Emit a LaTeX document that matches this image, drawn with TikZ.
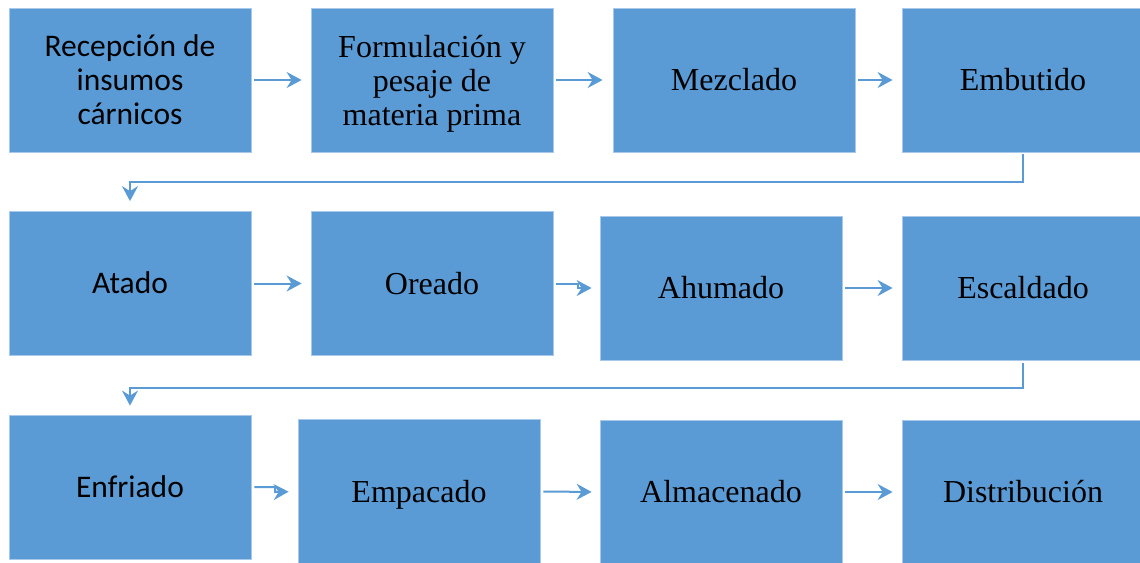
\documentclass[tikz,border=0pt]{standalone}
\usepackage{fontspec}
\setmainfont{Liberation Serif}
\newfontfamily\calfont{Carlito}
\usetikzlibrary{arrows.meta}
\definecolor{boxblue}{HTML}{5B9BD5}
\definecolor{boxedge}{HTML}{A9C9EA}
\tikzset{
  stepbox/.style={rectangle, fill=boxblue, draw=boxedge, line width=0.8pt,
    minimum width=242pt, minimum height=144pt, inner sep=0pt, align=center,
    text=black, font=\fontsize{32}{34}\selectfont},
  sansbox/.style={stepbox, font=\calfont\fontsize{31.5}{34}\selectfont},
  serifline/.style={stepbox, text height=21.2pt, text depth=0pt},
  sansline/.style={sansbox, text height=20.3pt, text depth=0pt},
  flow/.style={draw=boxblue, line width=2pt,
    -{Stealth[length=15pt,width=16pt,inset=5pt]}},
}
\begin{document}
\begin{tikzpicture}[x=1pt,y=-1pt]
\useasboundingbox (0,0) rectangle (1140,562);
% row 1
\node[sansbox] (b1) at (130,80) {Recepción de\\insumos\\cárnicos};
\node[stepbox, text height=90pt, text depth=0pt] (b2) at (432,80) {Formulación y\\pesaje de\\materia prima};
\node[serifline] (b3) at (734,80) {Mezclado};
\node[serifline] (b4) at (1023,80) {Embutido};
% row 2
\node[sansline] (b5) at (130,283.5) {Atado};
\node[serifline] (b6) at (432,283.5) {Oreado};
\node[serifline] (b7) at (721,288) {Ahumado};
\node[serifline] (b8) at (1023,288) {Escaldado};
% row 3
\node[sansline] (b9) at (130,487) {Enfriado};
\node[serifline] (b10) at (419,491.5) {Empacado};
\node[serifline] (b11) at (721,492) {Almacenado};
\node[serifline] (b12) at (1023,492) {Distribución};
% connectors row 1
\draw[flow, shorten <=3pt, shorten >=9pt] (b1.east) -- (b2.west);
\draw[flow, shorten <=3pt, shorten >=10pt] (b2.east) -- (b3.west);
\draw[flow, shorten <=3pt, shorten >=9pt] (b3.east) -- (b4.west);
% turn 1
\coordinate (c1) at (130,182);
\draw[flow, shorten <=2pt, shorten >=10pt] (b4.south) |- (c1) -- (b5.north);
% row 2
\draw[flow, shorten <=3pt, shorten >=9pt] (b5.east) -- (b6.west);
\coordinate (j1) at (578,283.5);
\coordinate (j2) at (578,288);
\draw[flow, shorten <=3pt, shorten >=8pt] (b6.east) -- (j1) -- (j2) -- (b7.west);
\draw[flow, shorten <=3pt, shorten >=9pt] (b7.east) -- (b8.west);
% turn 2
\coordinate (c2) at (130,388);
\draw[flow, shorten <=3pt, shorten >=9pt] (b8.south) |- (c2) -- (b9.north);
% row 3
\coordinate (j3) at (275,487);
\coordinate (j4) at (275,492);
\draw[flow, shorten <=3pt, shorten >=9pt] (b9.east) -- (j3) -- (j4) -- (b10.west);
\draw[flow, shorten <=3pt, shorten >=8pt] (b10.east) -- (b11.west);
\draw[flow, shorten <=3pt, shorten >=9pt] (b11.east) -- (b12.west);
\end{tikzpicture}
\end{document}
